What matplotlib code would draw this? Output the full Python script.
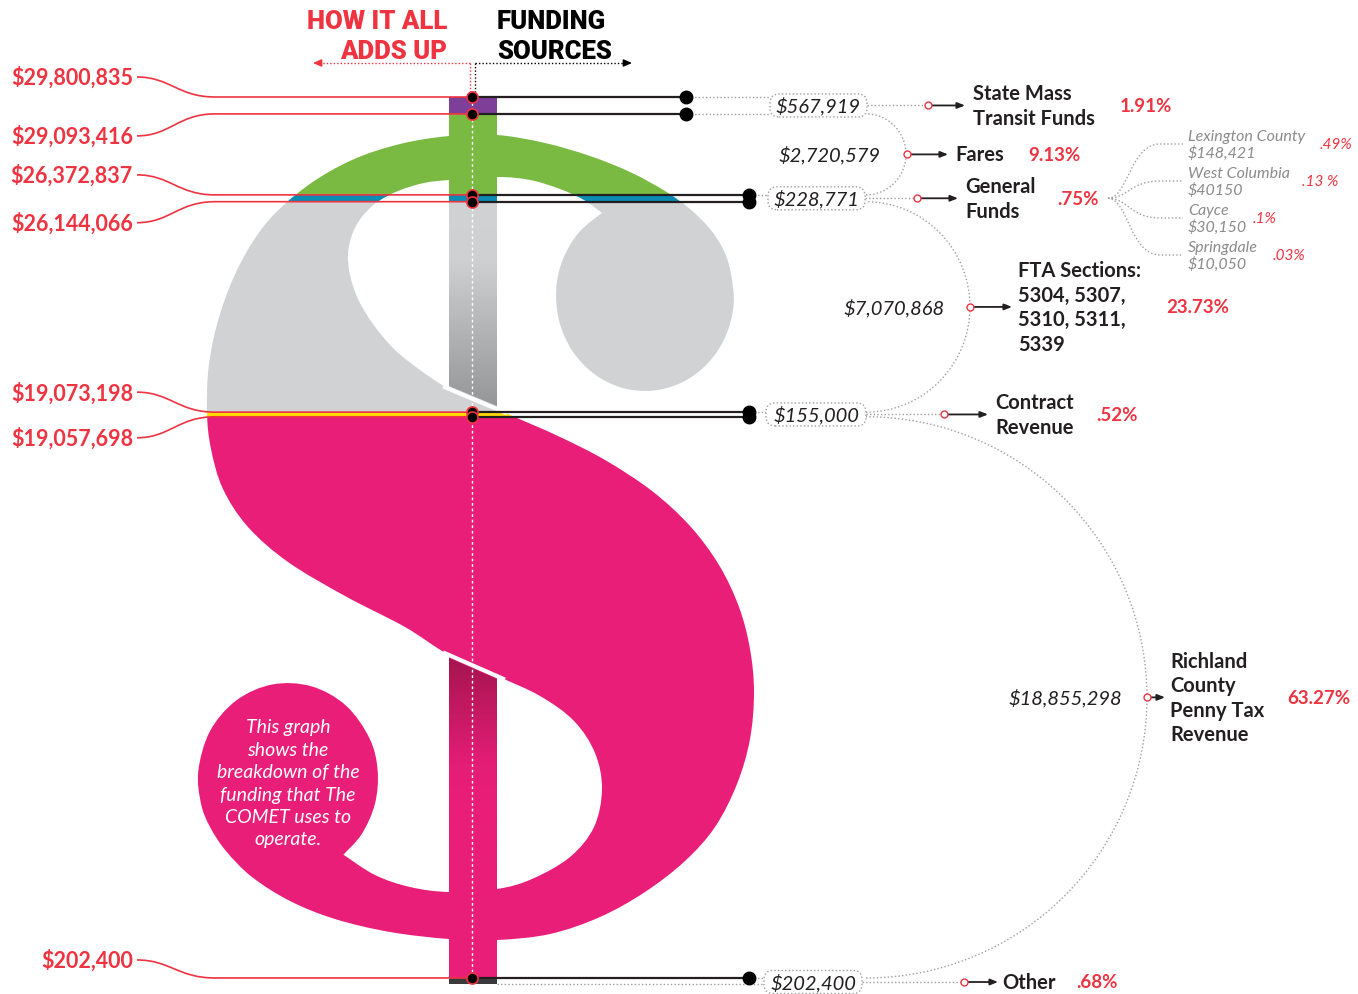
import numpy as np
import matplotlib.pyplot as plt
from matplotlib.path import Path
from matplotlib.patches import PathPatch, Polygon, FancyBboxPatch, Arc
from matplotlib.colors import LinearSegmentedColormap

plt.rcParams['font.family'] = ['Lato', 'DejaVu Sans']

# ---- data ----
sources = ['State Mass\nTransit Funds', 'Fares', 'General\nFunds',
           'FTA Sections:\n5304, 5307,\n5310, 5311,\n5339', 'Contract\nRevenue',
           'Richland\nCounty\nPenny Tax\nRevenue', 'Other']
amounts = [567919, 2720579, 228771, 7070868, 155000, 18855298, 202400]
amount_labels = ['$567,919', '$2,720,579', '$228,771', '$7,070,868',
                 '$155,000', '$18,855,298', '$202,400']
percents = ['1.91%', '9.13%', '.75%', '23.73%', '.52%', '63.27%', '.68%']
running_totals = ['$29,800,835', '$29,093,416', '$26,372,837', '$26,144,066',
                  '$19,073,198', '$19,057,698', '$202,400']
colors = ['#7e3f98', '#7aba43', '#0b8ab4', '#d1d2d4', '#ffdd00', '#e91e78', '#3a3a3c']

general_parts = ['Lexington County', 'West Columbia', 'Cayce', 'Springdale']
general_amounts = ['$148,421', '$40150', '$30,150', '$10,050']
general_percents = ['.49%', '.13 %', '.1%', '.03%']

callout = ['This graph', 'shows the', 'breakdown of the',
           'funding that The', 'COMET uses to', 'operate.']

red = '#ee3341'
ink = '#231f20'
dot_gray = '#9d9d9f'

# stacking, top band first
amounts_arr = np.array(amounts, float)
total = amounts_arr.sum()
tops = total - np.concatenate([[0], np.cumsum(amounts_arr)[:-1]])
bottoms = tops - amounts_arr
mids = (tops + bottoms) / 2

# y axis is dollars; layout positions are given in figure pixels
W, H = 1358, 995
TOP_PX, ZERO_PX = 98, 985
per_px = total / (ZERO_PX - TOP_PX)


def yd(py):
    return (ZERO_PX - py) * per_px


fig = plt.figure(figsize=(W / 100, H / 100), dpi=100)
ax = fig.add_axes([0, 0, 1, 1])
ax.axis('off')


# ---- dollar sign outline ----
def ellipse_pts(cx, cy, rx, ry, angles):
    a = np.radians(angles)
    return list(zip(cx + rx * np.cos(a), cy + ry * np.sin(a)))


def smooth_closed(runs):
    verts, codes = [], []
    for run in runs:
        p = np.array([(x, yd(y)) for x, y in run])
        if not verts:
            verts.append(p[0])
            codes.append(Path.MOVETO)
        n = len(p)
        for i in range(n - 1):
            a = p[max(i - 1, 0)]
            d = p[min(i + 2, n - 1)]
            verts += [p[i] + (p[i + 1] - a) / 6, p[i + 1] - (d - p[i]) / 6, p[i + 1]]
            codes += [Path.CURVE4] * 3
    verts.append(verts[0])
    codes.append(Path.CLOSEPOLY)
    return Path(np.array(verts), codes)


upper_ball = ellipse_pts(645, 297, 89, 95, [241, 222, 203, 185, 165, 145, 125, 105,
                                            85, 65, 45, 25, 5])
lower_ball = ellipse_pts(288, 780, 90, 96, [52, 35, 15, -5, -25, -50, -75, -100,
                                            -125, -150, -175, -195, -210])
run_a = upper_ball + [
    (731, 275), (724, 252), (710, 230), (690, 210), (665, 192), (630, 173),
    (590, 157), (545, 144), (497, 136), (449, 137), (400, 145), (352, 161),
    (307, 187), (268, 222), (240, 265), (220, 315), (209, 365), (207, 413),
    (211, 450), (223, 490), (248, 528), (288, 563), (345, 597), (405, 628),
    (449, 656), (497, 677), (540, 697), (574, 722), (595, 754), (602, 790),
    (594, 828), (570, 858), (532, 880), (497, 890), (449, 893), (410, 888),
    (375, 876)] + [lower_ball[0]]
run_b = lower_ball + [
    (226, 852), (252, 878), (290, 902), (335, 920), (390, 933), (449, 940),
    (497, 941), (550, 935), (600, 918), (645, 893), (685, 862), (715, 828),
    (737, 785), (750, 740), (754, 693), (750, 650), (739, 608), (719, 566),
    (690, 527), (652, 492), (605, 461), (558, 437), (510, 416), (480, 403),
    (449, 390), (420, 371), (394, 350), (373, 325), (358, 300), (350, 276),
    (348, 255), (352, 236), (361, 219), (376, 204), (398, 192), (424, 184),
    (449, 181), (497, 178), (530, 181), (560, 190), (584, 201)] + [upper_ball[0]]
s_clip = PathPatch(smooth_closed([run_a, run_b]), transform=ax.transData)

# colour bands inside the S, and the same stack as the vertical stem
s_bars = ax.bar(480, amounts_arr, bottom=bottoms, width=720, color=colors,
                linewidth=0, zorder=1)
for r in s_bars:
    r.set_clip_path(s_clip)
ax.bar(473, amounts_arr, bottom=bottoms, width=48, color=colors, linewidth=0, zorder=2)

# shaded stem pieces inside the two counters
ramp = np.linspace(0, 1, 256)[:, None]
gray_ramp = LinearSegmentedColormap.from_list(
    'gray_ramp', [(0, '#d1d2d4'), (0.28, '#cfd0d2'), (1, '#949597')])
pink_ramp = LinearSegmentedColormap.from_list(
    'pink_ramp', [(0, '#a3144e'), (0.45, '#e41d76'), (0.6, '#e91e78'), (1, '#e91e78')])
im1 = ax.imshow(ramp, cmap=gray_ramp, extent=(449, 497, yd(410), tops[3]),
                aspect='auto', origin='upper', zorder=3)
im1.set_clip_path(Polygon([(449, tops[3]), (497, tops[3]), (497, yd(407)), (449, yd(387))],
                          transform=ax.transData))
im2 = ax.imshow(ramp, cmap=pink_ramp, extent=(449, 497, yd(900), yd(655)),
                aspect='auto', origin='upper', zorder=3)
im2.set_clip_path(Polygon([(449, yd(659)), (497, yd(680)), (497, yd(900)), (449, yd(900))],
                          transform=ax.transData))
ax.plot([443, 507], [yd(387.4), yd(414.3)], color='white', lw=3, zorder=4,
        solid_capstyle='butt')
ax.plot([443, 505], [yd(653.4), yd(680.6)], color='white', lw=3, zorder=4,
        solid_capstyle='butt')

# dotted centre line of the stem
ax.plot([472, 472], [tops[0], 0], color='white', lw=1, ls=(0, (2, 2)), zorder=6)

# ---- header ----
head = dict(fontsize=18.5, fontweight='black', va='center', family=['Roboto', 'Lato'])
ax.text(447, yd(22), 'HOW IT ALL', ha='right', color=red, **head)
ax.text(447, yd(52), 'ADDS UP', ha='right', color=red, **head)
ax.text(497, yd(22), 'FUNDING', ha='left', color='black', **head)
ax.text(497, yd(52), 'SOURCES', ha='left', color='black', **head)
ax.plot([469.5, 469.5], [yd(64), tops[0]], color=red, lw=1, ls=(0, (1, 1.5)), zorder=5)
ax.plot([469.5, 318], [yd(64), yd(64)], color=red, lw=1, ls=(0, (1, 1.5)), zorder=5)
ax.annotate('', xy=(313, yd(64)), xytext=(320, yd(64)),
            arrowprops=dict(arrowstyle='-|>,head_length=0.5,head_width=0.22',
                            color=red, lw=1, shrinkA=0, shrinkB=0))
ax.plot([475, 475], [yd(64), tops[0]], color='black', lw=1, ls=(0, (1, 1.5)), zorder=5)
ax.plot([475, 626], [yd(64), yd(64)], color='black', lw=1, ls=(0, (1, 1.5)), zorder=5)
ax.annotate('', xy=(632, yd(64)), xytext=(625, yd(64)),
            arrowprops=dict(arrowstyle='-|>,head_length=0.5,head_width=0.22',
                            color='black', lw=1, shrinkA=0, shrinkB=0))

# ---- running totals on the left ----
label_offsets = [-20, 22, -20, 21, -20, 21, -18]
for i, txt in enumerate(running_totals):
    ly = tops[i] - label_offsets[i] * per_px
    ax.text(133, ly, txt, ha='right', va='center', color=red,
            fontsize=15.5, fontweight='bold', zorder=9)
    leader = Path([(137, ly), (170, ly), (178, tops[i]), (215, tops[i]), (472, tops[i])],
                  [Path.MOVETO, Path.CURVE4, Path.CURVE4, Path.CURVE4, Path.LINETO])
    ax.add_patch(PathPatch(leader, fill=False, edgecolor=red, lw=1.2, zorder=5))

# ---- band edges on the right ----
dot_x = [686, 686, 749, 749, 749, 749, 749]
for i in range(len(tops)):
    ax.plot([472, dot_x[i]], [tops[i], tops[i]], color=ink, lw=1.6, zorder=6)
ax.plot(dot_x, tops, 'o', ms=9, color='black', zorder=7)
ax.plot([472] * len(tops), tops, 'o', ms=8, mfc='black', mec=red, mew=1.2, zorder=8)

pill_lr = {0: (770, 867), 2: (768, 865), 4: (766, 866), 6: (764, 862)}
bracket_rx = {1: 40, 3: 104, 5: 281}
bracket_text_x = {1: 881, 3: 945, 5: 1122}
circle_x = [928, 907, 917, 970, 944, 1147, 964]
arrow_x = [965, 948, 958, 1012, 988, 1165, 998]
label_x = [973, 955, 965, 1018, 995, 1170, 1002]
pct_x = [1120, 1028, 1057, 1166, 1096, 1287, 1076]
label_y = list(mids)
label_y[6] = yd(983)

dotted = dict(color=dot_gray, lw=1, ls=(0, (1, 1.6)), zorder=5)

for i, (l, r) in pill_lr.items():
    half = max(amounts_arr[i] / per_px / 2 + 1, 11.5) * per_px
    edges = [tops[i], bottoms[i]] if i == 0 else [tops[i]]
    for e in edges:
        ax.plot([dot_x[i] + 5, l], [e, e], **dotted)
    ax.add_patch(FancyBboxPatch((l, label_y[i] - half), r - l, 2 * half,
                                boxstyle='round,pad=0,rounding_size=9',
                                mutation_aspect=per_px, facecolor='white',
                                edgecolor=dot_gray, lw=1, ls=(0, (1, 1.6)), zorder=6))
    ax.text((l + r) / 2, label_y[i], amount_labels[i], ha='center', va='center',
            fontsize=14.5, fontstyle='italic', color=ink, zorder=9)
    ax.plot([r, circle_x[i] - 3], [label_y[i], label_y[i]], **dotted)
ax.plot([497, pill_lr[6][0]], [0, 0], **dotted)

for i, rx in bracket_rx.items():
    ax.add_patch(Arc((866, mids[i]), 2 * rx, amounts_arr[i], theta1=-90, theta2=90,
                     edgecolor=dot_gray, lw=1, ls=(0, (1, 1.6)), zorder=5))
    ax.text(bracket_text_x[i], mids[i], amount_labels[i], ha='right', va='center',
            fontsize=14.5, fontstyle='italic', color=ink, zorder=9)


def multiline(x, yc, text, pitch, **kw):
    lines = text.split('\n')
    n = len(lines)
    for k, line in enumerate(lines):
        ax.text(x, yc + ((n - 1) / 2 - k) * pitch * per_px, line, va='center', **kw)


for i in range(len(sources)):
    y = label_y[i]
    ax.annotate('', xy=(arrow_x[i], y), xytext=(circle_x[i], y),
                arrowprops=dict(arrowstyle='-|>,head_length=0.45,head_width=0.18',
                                color=ink, lw=1.3, shrinkA=0, shrinkB=0), zorder=7)
    ax.plot(circle_x[i], y, 'o', ms=5, mfc='white', mec=red, mew=1, zorder=8)
    multiline(label_x[i], y, sources[i], 24.5, ha='left', fontsize=14.5,
              fontweight='bold', color=ink, zorder=9)
    ax.text(pct_x[i], y, percents[i], ha='left', va='center', fontsize=13.5,
            fontweight='bold', color=red, zorder=9)

# general funds breakdown
sub_y = [145, 182, 219, 256]
sub_pct_x = [1320, 1302, 1253, 1273]
bx, by = 1108, mids[2]
for k, name in enumerate(general_parts):
    yk = yd(sub_y[k])
    branch = Path([(bx, by), (1128, by), (1130, yk), (1160, yk), (1183, yk)],
                  [Path.MOVETO, Path.CURVE4, Path.CURVE4, Path.CURVE4, Path.LINETO])
    ax.add_patch(PathPatch(branch, fill=False, edgecolor=dot_gray, lw=1,
                           ls=(0, (1, 1.6)), zorder=5))
    ax.text(1188, yk + 8 * per_px, name, ha='left', va='center', fontsize=11.5,
            fontstyle='italic', color='#8b8b8d', zorder=9)
    ax.text(1188, yk - 8 * per_px, general_amounts[k], ha='left', va='center',
            fontsize=11.5, fontstyle='italic', color='#8b8b8d', zorder=9)
    ax.text(sub_pct_x[k], yk, general_percents[k], ha='left', va='center',
            fontsize=11, fontstyle='italic', color=red, zorder=9)

# note inside the lower ball
for k, line in enumerate(callout):
    ax.text(288, yd(728 + 22.4 * k), line, ha='center', va='center', fontsize=14,
            fontstyle='italic', color='white', zorder=9)

ax.set_xlim(0, W)
ax.set_ylim(yd(H), yd(0))
fig.savefig('out.png', dpi=100)
